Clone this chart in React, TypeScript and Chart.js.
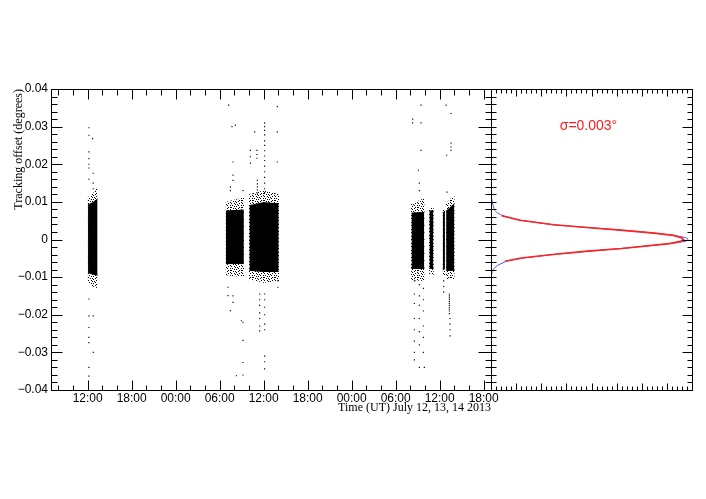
import React, { useEffect, useRef } from 'react';
import { Chart, registerables } from 'chart.js';

Chart.register(...registerables);

// ---------- axis text ----------
const xTickHours = [12, 18, 24, 30, 36, 42, 48, 54, 60, 66];
const xTickLabels = ['12:00', '18:00', '00:00', '06:00', '12:00', '18:00', '00:00', '06:00', '12:00', '18:00'];
const yTickLabels = ['\u22120.04', '\u22120.03', '\u22120.02', '\u22120.01', '0', '0.01', '0.02', '0.03', '0.04'];
const xTitle = 'Time (UT) July 12, 13, 14 2013';
const yTitle = 'Tracking offset (degrees)';
const sigmaLabel = '\u03c3=0.003\u00b0';

// ---------- dense observing blocks: [hour since 12 Jul 00:00, low, high] ----------
const block1Core = [[12.05, -0.0088, 0.0092], [12.7, -0.0092, 0.0098], [13.35, -0.0095, 0.0108]];
const block1Halo = [[12.0, -0.0112, 0.0112], [12.7, -0.0125, 0.0122], [13.4, -0.013, 0.014]];
const block2Core = [[30.85, -0.0064, 0.0076], [33.3, -0.0064, 0.0078]];
const block2Halo = [[30.8, -0.0095, 0.01], [33.35, -0.01, 0.0112]];
const block3Core = [[34.05, -0.0082, 0.009], [36.0, -0.0085, 0.0098], [38.05, -0.0085, 0.0095]];
const block3Halo = [[34.0, -0.0105, 0.012], [36.0, -0.0115, 0.013], [38.1, -0.011, 0.012]];
const block4Core = [[56.15, -0.0077, 0.007], [57.9, -0.0077, 0.0072]];
const block4Halo = [[56.1, -0.0108, 0.0095], [57.95, -0.011, 0.011]];
const block5Core = [[58.6, -0.0077, 0.0076], [59.15, -0.0077, 0.0076]];
const block5Halo = [[58.55, -0.0092, 0.0083], [59.2, -0.0095, 0.0085]];
const block6Core = [[60.42, -0.0078, 0.0072], [60.72, -0.0078, 0.0072]];
const block6Halo = [[60.4, -0.0095, 0.008], [60.75, -0.0095, 0.008]];
const block7Core = [[60.88, -0.0082, 0.0075], [62.0, -0.0082, 0.0095]];
const block7Halo = [[60.85, -0.0105, 0.0095], [62.05, -0.0105, 0.012]];

// ---------- isolated points: [hour, offsets...] ----------
const outlierColumns: [number, number[]][] = [
  [12.17, [0.0297, 0.0277, 0.0233, 0.0215, 0.02, 0.019, 0.016, -0.0158, -0.0203, -0.0234, -0.026, -0.0274, -0.034, -0.0363]],
  [12.68, [0.0268]],
  [12.76, [0.0176, 0.015, 0.0135, -0.0203, -0.03]],
  [31.14, [-0.0127, -0.0149]],
  [31.23, [0.0357]],
  [31.46, [0.014, 0.013, -0.0189]],
  [31.68, [0.03]],
  [31.82, [0.0206, 0.0171, 0.0157, -0.015, -0.0167]],
  [32.14, [0.0304]],
  [32.28, [-0.0362]],
  [32.96, [-0.0216]],
  [33.18, [0.013, -0.022, -0.0268, -0.0327, -0.036]],
  [34.19, [0.0237, 0.022, 0.0203]],
  [34.77, [0.0286]],
  [35.08, [0.0237, 0.0226, 0.0216]],
  [35.14, [0.0157, 0.0148, 0.014, 0.0132, 0.0123]],
  [35.45, [-0.0145, -0.016, -0.0175, -0.0195, -0.021, -0.023, -0.0243]],
  [36.13, [0.031, 0.03, 0.029, 0.0278, 0.0262, 0.025, 0.0236, 0.0222, 0.021, 0.0195, 0.018, 0.0165, 0.015, 0.0135, 0.0125, -0.0145, -0.016, -0.018, -0.02, -0.0225, -0.024, -0.031, -0.0325, -0.0344]],
  [37.86, [0.0353, 0.0286, 0.0206]],
  [37.94, [-0.011, -0.0127]],
  [56.32, [0.032, 0.031]],
  [56.55, [-0.011, -0.0145, -0.017, -0.021, -0.024, -0.027, -0.03, -0.032]],
  [57.1, [0.0184]],
  [57.23, [0.015, 0.013, -0.012, -0.015, -0.0175, -0.021, -0.0245, -0.028, -0.034]],
  [57.46, [0.0357, 0.031, 0.0237]],
  [57.78, [-0.013, -0.016, -0.019, -0.023, -0.026, -0.03]],
  [57.91, [-0.034]],
  [60.54, [-0.011, -0.0125, -0.014]],
  [60.87, [0.0357]],
  [60.95, [0.0224]],
  [61.0, [0.0126]],
  [61.32, [-0.0145, -0.015, -0.0155, -0.016, -0.0165, -0.017, -0.0175, -0.018, -0.0185, -0.019, -0.0197]],
  [61.41, [-0.021, -0.0225, -0.024, -0.0256]],
  [61.55, [0.0335, 0.0256, 0.0246, 0.0237]],
];

// ---------- histogram (right panel) ----------
const histOffsets = [0.0125, 0.011, 0.01, 0.009, 0.0078, 0.0071, 0.0066, 0.0062, 0.0051, 0.0039, 0.0032, 0.0025, 0.0017, 0.0011, 0.0005, 0.0, -0.0005, -0.0011, -0.0024, -0.0031, -0.0039, -0.0049, -0.0058, -0.0069, -0.0082, -0.01, -0.012];
const histCounts = [0, 0.02, 0.05, 0.08, 0.14, 0.25, 0.38, 0.55, 1.2, 2.5, 3.85, 5.2, 6.5, 7.3, 7.75, 7.85, 7.75, 7.1, 5.2, 3.9, 2.6, 1.3, 0.6, 0.25, 0.05, 0.01, 0];
const fitOffsets = [0.0063, 0.0051, 0.0039, 0.0032, 0.0025, 0.0017, 0.0011, 0.0005, 0.0, -0.0005, -0.0011, -0.0024, -0.0031, -0.0039, -0.0049, -0.0058];
const fitCounts = [0.42, 1.15, 2.5, 3.8, 5.15, 6.5, 7.25, 7.58, 7.66, 7.55, 7.1, 5.2, 3.85, 2.55, 1.2, 0.55];

const TICK_FONT = { family: "'Liberation Sans', Arial, sans-serif", size: 12 };
const TITLE_FONT = { family: "'Liberation Serif', 'Times New Roman', serif", size: 12 };

// speckle tile used to render the sparse fringe of each block (style only)
const SPECKLE_TILE = [
  '#..#....#..',
  '....#.#....',
  '.#.....#..#',
  '...#.#.....',
  '#.......#.#',
  '..#.#..#...',
  '.....#....#',
];

function majorMinor(min: number, max: number, major: number, minor: number) {
  const maj: number[] = [];
  const mnr: number[] = [];
  const n = Math.round((max - min) / minor);
  for (let i = 0; i <= n; i++) {
    const v = min + i * minor;
    const r = (v - min) / major;
    if (Math.abs(r - Math.round(r)) < 1e-6) maj.push(v);
    else mnr.push(v);
  }
  return { maj, mnr };
}

const px = (v: number) => Math.round(v) + 0.5;

const leftFramePlugin = {
  id: 'leftFrame',
  afterDraw(chart: any) {
    const { ctx, chartArea: a, scales } = chart;
    const xs = scales.x;
    const ys = scales.y;
    const L = px(a.left), R = px(a.right), T = px(a.top), B = px(a.bottom);
    ctx.save();
    ctx.strokeStyle = '#000';
    ctx.lineWidth = 1;
    ctx.strokeRect(L, T, R - L, B - T);
    ctx.beginPath();
    const xt = majorMinor(6, 66, 6, 2);
    const vtick = (v: number, lb: number, lt: number) => {
      if (v < xs.min || v > xs.max) return;
      const p = px(xs.getPixelForValue(v));
      ctx.moveTo(p, B); ctx.lineTo(p, B - lb);
      ctx.moveTo(p, T); ctx.lineTo(p, T + lt);
    };
    xt.maj.forEach((v) => vtick(v, 10, 10));
    xt.mnr.forEach((v) => vtick(v, 5, 6));
    const yt = majorMinor(-0.04, 0.04, 0.01, 0.002);
    const htick = (v: number, ll: number, lr: number) => {
      const p = px(ys.getPixelForValue(v));
      ctx.moveTo(L, p); ctx.lineTo(L + ll, p);
      ctx.moveTo(R, p); ctx.lineTo(R - lr, p);
    };
    yt.maj.forEach((v) => htick(v, 11, 13));
    yt.mnr.forEach((v) => htick(v, 6, 6));
    ctx.stroke();
    ctx.restore();
  },
};

const rightFramePlugin = {
  id: 'rightFrame',
  afterDraw(chart: any) {
    const { ctx, chartArea: a, scales } = chart;
    const xs = scales.x;
    const ys = scales.y;
    const L = px(a.left), R = px(a.right), T = px(a.top), B = px(a.bottom);
    ctx.save();
    ctx.strokeStyle = '#000';
    ctx.lineWidth = 1;
    ctx.strokeRect(L, T, R - L, B - T);
    ctx.beginPath();
    const xt = majorMinor(0, 8, 1, 0.2);
    const vtick = (v: number, len: number) => {
      const p = px(xs.getPixelForValue(v));
      ctx.moveTo(p, B); ctx.lineTo(p, B - len);
      ctx.moveTo(p, T); ctx.lineTo(p, T + len);
    };
    xt.maj.forEach((v) => vtick(v, 7));
    xt.mnr.forEach((v) => vtick(v, 4));
    const yt = majorMinor(-0.04, 0.04, 0.01, 0.002);
    const htick = (v: number, ll: number, lr: number) => {
      const p = px(ys.getPixelForValue(v));
      ctx.moveTo(L, p); ctx.lineTo(L + ll, p);
      ctx.moveTo(R, p); ctx.lineTo(R - lr, p);
    };
    yt.maj.forEach((v) => htick(v, 5, 10));
    yt.mnr.forEach((v) => htick(v, 5, 5));
    ctx.stroke();
    ctx.fillStyle = '#ff1a1a';
    ctx.font = "14px 'Liberation Sans', Arial, sans-serif";
    ctx.textAlign = 'center';
    ctx.textBaseline = 'middle';
    ctx.fillText(sigmaLabel, a.left + (a.right - a.left) * 0.485, a.top + 37);
    ctx.restore();
  },
};

function makeSpeckle(ctx: CanvasRenderingContext2D) {
  const c = document.createElement('canvas');
  c.width = SPECKLE_TILE[0].length;
  c.height = SPECKLE_TILE.length;
  const g = c.getContext('2d')!;
  g.fillStyle = '#000';
  SPECKLE_TILE.forEach((row, y) => {
    for (let x = 0; x < row.length; x++) if (row[x] === '#') g.fillRect(x, y, 1, 1);
  });
  return ctx.createPattern(c, 'repeat');
}

export default function App() {
  const leftRef = useRef<HTMLCanvasElement>(null);
  const rightRef = useRef<HTMLCanvasElement>(null);

  useEffect(() => {
    const lc = leftRef.current!;
    const rc = rightRef.current!;
    const speckle = makeSpeckle(lc.getContext('2d')!);

    const blocks = [
      [block1Core, block1Halo],
      [block2Core, block2Halo],
      [block3Core, block3Halo],
      [block4Core, block4Halo],
      [block5Core, block5Halo],
      [block6Core, block6Halo],
      [block7Core, block7Halo],
    ];
    const edge = (rows: number[][], col: number) => rows.map((r) => ({ x: r[0], y: r[col] }));

    const coreSets: any[] = [];
    const haloSets: any[] = [];
    blocks.forEach(([core, halo]) => {
      coreSets.push(
        { data: edge(core, 2), showLine: true, fill: '+1', backgroundColor: '#000', borderColor: '#000', borderWidth: 1, pointRadius: 0 },
        { data: edge(core, 1), showLine: true, fill: false, borderColor: '#000', borderWidth: 1, pointRadius: 0 }
      );
      haloSets.push(
        { data: edge(halo, 2), showLine: true, fill: '+1', backgroundColor: speckle, borderColor: 'rgba(0,0,0,0)', borderWidth: 0, pointRadius: 0 },
        { data: edge(halo, 1), showLine: true, fill: false, borderColor: 'rgba(0,0,0,0)', borderWidth: 0, pointRadius: 0 }
      );
    });

    const outlierPoints: { x: number; y: number }[] = [];
    outlierColumns.forEach(([h, vals]) => vals.forEach((v) => outlierPoints.push({ x: h, y: v })));

    const left = new Chart(lc, {
      type: 'scatter',
      data: {
        datasets: [
          {
            data: outlierPoints,
            showLine: false,
            pointStyle: 'rect',
            pointRadius: 0.8,
            pointBorderWidth: 0,
            pointBackgroundColor: '#000',
          } as any,
          ...coreSets,
          ...haloSets,
        ],
      },
      options: {
        responsive: false,
        animation: false,
        events: [],
        layout: { padding: { left: 0, top: 89, right: 706 - 491, bottom: 499 - 420 } },
        plugins: { legend: { display: false }, tooltip: { enabled: false } },
        scales: {
          x: {
            type: 'linear',
            min: 7,
            max: 67,
            grid: { display: false, drawTicks: false },
            border: { display: false },
            afterBuildTicks: (s: any) => {
              s.ticks = xTickHours.map((v) => ({ value: v }));
            },
            afterFit: (s: any) => {
              s.height = 30;
            },
            ticks: {
              autoSkip: false,
              maxRotation: 0,
              padding: 1,
              color: '#000',
              font: TICK_FONT,
              callback: (_v: any, i: number) => xTickLabels[i],
            },
            title: {
              display: true,
              text: xTitle,
              align: 'end',
              color: '#000',
              font: TITLE_FONT,
              padding: { top: 0, bottom: 4.8 },
            },
          },
          y: {
            type: 'linear',
            min: -0.04,
            max: 0.04,
            grid: { display: false, drawTicks: false },
            border: { display: false },
            afterFit: (s: any) => {
              s.width = 51;
            },
            ticks: {
              stepSize: 0.01,
              autoSkip: false,
              padding: 3,
              color: '#000',
              font: TICK_FONT,
              callback: (_v: any, i: number) => yTickLabels[i],
            },
            title: {
              display: true,
              text: yTitle,
              align: 'end',
              color: '#000',
              font: TITLE_FONT,
              padding: { top: 12, bottom: 0 },
            },
          },
        },
      } as any,
      plugins: [leftFramePlugin],
    });

    const fitPoints = fitOffsets.map((o, i) => ({ x: fitCounts[i], y: o }));
    const histPoints = histOffsets.map((o, i) => ({ x: histCounts[i], y: o }));

    const right = new Chart(rc, {
      type: 'scatter',
      data: {
        datasets: [
          { data: fitPoints, showLine: true, borderColor: '#ff2222', borderWidth: 1.6, pointRadius: 0, fill: false } as any,
          { data: histPoints, showLine: true, borderColor: '#5c5cd6', borderWidth: 1, pointRadius: 0, fill: false } as any,
        ],
      },
      options: {
        responsive: false,
        animation: false,
        events: [],
        layout: { padding: { left: 491, top: 89, right: 706 - 692, bottom: 499 - 390 } },
        plugins: { legend: { display: false }, tooltip: { enabled: false } },
        scales: {
          x: { type: 'linear', min: 0, max: 8, display: false },
          y: { type: 'linear', min: -0.04, max: 0.04, display: false },
        },
      } as any,
      plugins: [rightFramePlugin],
    });

    return () => {
      left.destroy();
      right.destroy();
    };
  }, []);

  return (
    <div style={{ position: 'absolute', left: 0, top: 0, width: 706, height: 499, background: '#fff' }}>
      <canvas ref={leftRef} width={706} height={499} style={{ position: 'absolute', left: 0, top: 0 }} />
      <canvas ref={rightRef} width={706} height={499} style={{ position: 'absolute', left: 0, top: 0 }} />
    </div>
  );
}
